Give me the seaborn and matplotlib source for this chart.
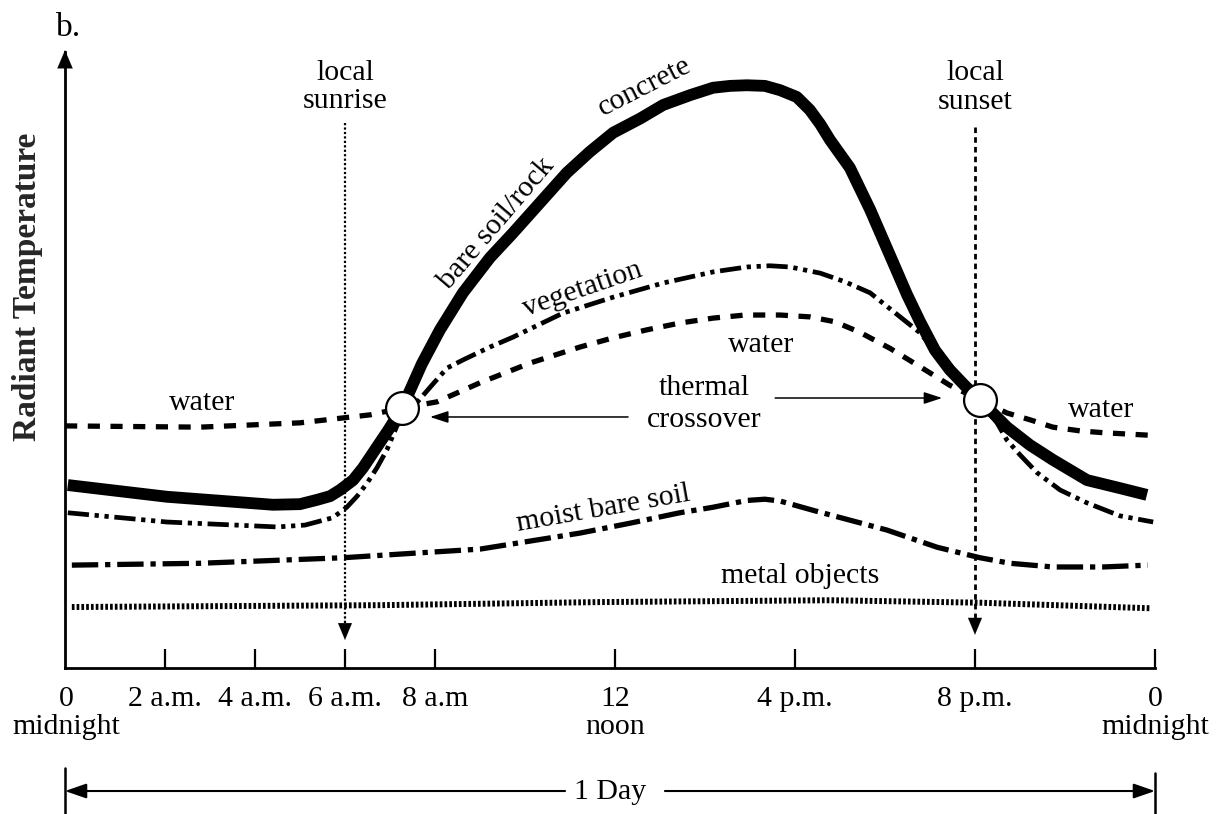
import matplotlib
matplotlib.use("Agg")
import matplotlib.pyplot as plt
import matplotlib.transforms as mtransforms
import seaborn as sns

# ---------------- data (x: hour of day, y: relative radiant temperature 0-100) -------------
hours_concrete = [-0.16, 2.04, 4.40, 5.00, 5.38, 5.67, 5.89, 6.18, 6.40, 6.62, 6.96, 7.27,
                  7.71, 8.11, 8.62, 9.22, 9.73, 10.33, 10.93, 11.44, 11.96, 12.56, 13.07,
                  13.67, 14.18, 14.56, 14.93, 15.33, 15.67, 16.04, 16.33, 16.56, 16.78,
                  17.22, 17.67, 18.11, 18.49, 18.78, 19.11, 19.44, 19.78, 20.11, 20.71,
                  21.22, 21.73, 22.49, 23.22, 23.82]
temp_concrete = [29.7, 27.8, 26.5, 26.6, 27.3, 27.9, 28.9, 30.5, 32.5, 34.9, 38.6, 42.2,
                 49.4, 54.9, 60.9, 66.6, 70.6, 75.5, 80.4, 83.8, 86.9, 89.2, 91.4,
                 93.0, 94.2, 94.5, 94.6, 94.5, 93.8, 92.7, 90.6, 88.3, 85.7,
                 81.2, 74.4, 67.0, 60.6, 56.2, 51.6, 48.4, 45.8, 43.5, 39.1,
                 36.2, 33.8, 30.5, 29.2, 28.1]

hours_vegetation = [-0.16, 2.04, 4.49, 5.11, 5.73, 6.04, 6.27, 6.49, 6.71, 6.93, 7.16,
                    7.93, 8.27, 8.62, 9.22, 9.73, 10.84, 11.96, 13.07, 14.18, 14.93,
                    15.44, 15.89, 16.56, 17.11, 17.67, 18.78, 19.51, 20.11, 20.49, 20.71,
                    21.00, 21.38, 21.89, 22.49, 23.22, 23.96]
temp_vegetation = [25.2, 23.7, 22.9, 23.2, 24.4, 26.1, 27.9, 30.0, 32.5, 35.4, 39.4,
                   45.9, 48.7, 50.0, 52.1, 53.7, 57.6, 60.2, 62.5, 64.3, 65.1,
                   65.3, 65.1, 64.1, 62.7, 60.9, 54.4, 47.9, 43.5, 39.8, 37.0,
                   34.6, 31.7, 28.9, 26.8, 24.7, 23.7]

hours_water = [-0.22, 2.78, 5.00, 5.96, 6.56, 7.27, 8.04, 9.00, 10.11, 11.22, 11.96,
               12.71, 13.44, 14.18, 14.89, 15.67, 16.33, 16.89, 17.44, 18.11, 18.78,
               19.44, 20.11, 20.71, 21.22, 21.73, 22.33, 22.84, 23.84]
temp_water = [39.3, 39.1, 39.8, 40.6, 41.1, 42.2, 43.2, 46.3, 49.5, 52.1, 53.6,
              54.9, 56.0, 56.8, 57.3, 57.3, 57.0, 56.2, 54.5, 51.9, 48.9,
              45.9, 43.5, 41.4, 40.3, 39.1, 38.5, 38.2, 37.8]

hours_moist = [-0.07, 2.78, 5.96, 7.67, 9.00, 10.11, 11.22, 12.33, 13.44, 14.18, 14.93,
               15.33, 15.67, 16.40, 17.22, 18.04, 19.16, 20.11, 20.78, 21.73, 22.84, 23.84]
temp_moist = [16.7, 17.0, 17.9, 18.7, 19.3, 20.6, 21.9, 23.5, 25.2, 26.1, 27.2,
              27.4, 27.1, 25.6, 24.0, 22.4, 19.6, 17.9, 17.0, 16.4, 16.4, 16.7]

hours_metal = [-0.07, 6.78, 11.67, 16.78, 20.11, 23.89]
temp_metal = [9.9, 10.2, 10.7, 11.0, 10.6, 9.7]

crossover_hours = [7.27, 20.11]
crossover_temps = [42.2, 43.5]

sunrise_hour = 6.0
sunset_hour = 20.0

tick_hours = [0, 2, 4, 6, 8, 12, 16, 20, 24]
tick_labels = ["0\nmidnight", "2 a.m.", "4 a.m.", "6 a.m.", "8 a.m", "12\nnoon",
               "4 p.m.", "8 p.m.", "0\nmidnight"]

# ---------------- style ----------------
sns.set_style("white")
plt.rcParams["font.family"] = ["Liberation Serif", "DejaVu Serif"]
plt.rcParams["text.color"] = "black"

FS = 21.5
W, H = 1222, 814
fig = plt.figure(figsize=(W / 100, H / 100), dpi=100)
x0_px, x1_px, y0_px, y1_px = 65, 1155, 668, 52
ax = fig.add_axes([x0_px / W, (H - y0_px) / H, (x1_px - x0_px) / W, (y0_px - y1_px) / H])
XMIN, XMAX = -0.222, 24.0
ax.set_xlim(XMIN, XMAX)
ax.set_ylim(0, 100)

# ---------------- curves ----------------
sns.lineplot(x=hours_metal, y=temp_metal, ax=ax, color="black", linewidth=4.3,
             linestyle=(0, (0.45, 0.35)), sort=False)
sns.lineplot(x=hours_moist, y=temp_moist, ax=ax, color="black", linewidth=3.8,
             linestyle=(0, (5.0, 1.3, 1.0, 1.3)), sort=False)
sns.lineplot(x=hours_water, y=temp_water, ax=ax, color="black", linewidth=3.8,
             linestyle=(0, (2.3, 2.0)), sort=False)
sns.lineplot(x=hours_vegetation, y=temp_vegetation, ax=ax, color="black", linewidth=3.4,
             linestyle=(0, (4.5, 1.2, 0.9, 1.2, 0.9, 1.2)), sort=False)
sns.lineplot(x=hours_concrete, y=temp_concrete, ax=ax, color="black", linewidth=8.5,
             solid_capstyle="butt", solid_joinstyle="round", sort=False)

# crossover circles
sns.scatterplot(x=crossover_hours, y=crossover_temps, ax=ax, s=560, color="white",
                edgecolor="black", linewidth=1.6, zorder=6)

# sunrise / sunset lines with arrow heads
ax.plot([sunrise_hour, sunrise_hour], [88.5, 7.0], color="black", lw=1.6,
        linestyle=(0, (1.0, 1.0)))
ax.plot([sunset_hour, sunset_hour], [87.8, 7.5], color="black", lw=2.0,
        linestyle=(0, (2.0, 1.5)))
head = dict(arrowstyle="-|>,head_length=12,head_width=5", mutation_scale=1,
            color="black", lw=0.1, shrinkA=0, shrinkB=0)
ax.annotate("", xy=(sunrise_hour, 4.55), xytext=(sunrise_hour, 8.5), arrowprops=head)
ax.annotate("", xy=(sunset_hour, 5.4), xytext=(sunset_hour, 9.3), arrowprops=head)

# ---------------- axes ----------------
sns.despine(ax=ax, top=True, right=True)
for side in ("left", "bottom"):
    ax.spines[side].set_linewidth(2.0)
    ax.spines[side].set_color("black")
ax.set_yticks([])
ax.set_xticks(tick_hours)
ax.set_xticklabels(tick_labels, fontsize=FS)
ax.tick_params(axis="x", bottom=True, direction="in", length=14, width=1.6, pad=13,
               colors="black")
first_tick = ax.xaxis.get_major_ticks()[0]
first_tick.tick1line.set_visible(False)
first_tick.label1.set_transform(first_tick.label1.get_transform()
                                + mtransforms.ScaledTranslation(-0.09, 0, fig.dpi_scale_trans))
for lbl in ax.get_xticklabels():
    lbl.set_linespacing(1.08)
ax.set_xlabel("")
ax.set_ylabel("Radiant Temperature", fontsize=24, fontweight="bold")
ax.yaxis.set_label_coords(-0.020, 0.618)

# y-axis arrow head
ax.annotate("", xy=(XMIN, 100.3), xytext=(XMIN, 96), annotation_clip=False,
            arrowprops=dict(arrowstyle="-|>,head_length=13,head_width=5.5", mutation_scale=1,
                            color="black", lw=0.1, shrinkA=0, shrinkB=0))

# ---------------- annotations ----------------
def txt(x, y, s, rot=0, ha="center", size=FS):
    ax.text(x, y, s, fontsize=size, ha=ha, va="baseline", rotation=rot,
            rotation_mode="anchor", clip_on=False)

txt(-0.42, 102.6, "b.", ha="left", size=24)
txt(sunrise_hour, 95.45, "local")
txt(sunrise_hour, 90.9, "sunrise")
txt(sunset_hour, 95.45, "local")
txt(sunset_hour, 90.7, "sunset")
txt(2.82, 41.9, "water")
txt(15.24, 51.3, "water")
txt(22.8, 40.75, "water")
txt(13.98, 44.3, "thermal")
txt(13.98, 39.1, "crossover")
txt(12.73, 93.3, "concrete", rot=27)
txt(9.49, 71.4, "bare soil/rock", rot=49.5)
txt(11.33, 60.4, "vegetation", rot=19)
txt(11.78, 24.8, "moist bare soil", rot=10)
txt(16.11, 13.8, "metal objects")

thin = dict(arrowstyle="-|>,head_length=11,head_width=3.6", mutation_scale=1,
            color="black", lw=1.1, shrinkA=0, shrinkB=0)
ax.annotate("", xy=(7.89, 40.75), xytext=(12.29, 40.75), arrowprops=thin)
ax.annotate("", xy=(19.27, 43.83), xytext=(15.56, 43.83), arrowprops=thin)

# 1 Day span
day_y = -19.97
mid = dict(arrowstyle="-|>,head_length=13,head_width=4.5", mutation_scale=1,
           color="black", lw=1.5, shrinkA=0, shrinkB=0)
ax.annotate("", xy=(XMIN, day_y), xytext=(10.89, day_y), arrowprops=mid, annotation_clip=False)
ax.annotate("", xy=(24.0, day_y), xytext=(13.11, day_y), arrowprops=mid, annotation_clip=False)
ax.plot([XMIN, XMIN], [-16.2, -24.0], color="black", lw=1.8, clip_on=False)
ax.plot([24.0, 24.0], [-17.0, -24.0], color="black", lw=1.8, clip_on=False)
txt(11.89, -21.3, "1 Day")

fig.savefig("out.png", dpi=100)
